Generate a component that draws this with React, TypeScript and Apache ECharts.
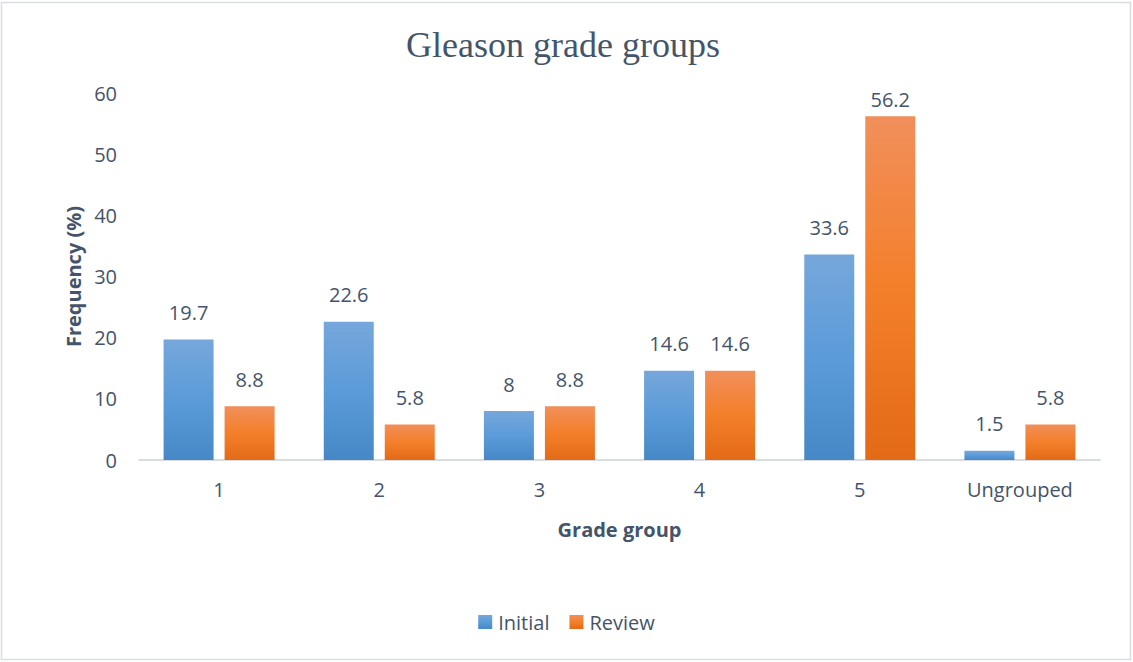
import React, { useEffect, useRef } from "react";
import * as echarts from "echarts";

const categories = ["1", "2", "3", "4", "5", "Ungrouped"];
const initialValues = [19.7, 22.6, 8, 14.6, 33.6, 1.5];
const reviewValues = [8.8, 5.8, 8.8, 14.6, 56.2, 5.8];
const seriesNames = ["Initial", "Review"];

const TEXT = "#44546A";
const FONT = "'Open Sans', 'Noto Sans', sans-serif";

const blueGrad = () =>
  new echarts.graphic.LinearGradient(0, 0, 0, 1, [
    { offset: 0, color: "#76A7DB" },
    { offset: 0.5, color: "#5B9BD9" },
    { offset: 1, color: "#4688C6" },
  ]);
const orangeGrad = () =>
  new echarts.graphic.LinearGradient(0, 0, 0, 1, [
    { offset: 0, color: "#F18F5B" },
    { offset: 0.5, color: "#F47F2A" },
    { offset: 1, color: "#E36A17" },
  ]);

export default function App() {
  const ref = useRef<HTMLDivElement>(null);
  useEffect(() => {
    if (!ref.current) return;
    const chart = echarts.init(ref.current, undefined, { renderer: "svg" });
    const label = {
      show: true,
      position: "top",
      distance: 17,
      color: TEXT,
      fontFamily: FONT,
      fontSize: 20,
    };
    // keep the tallest bar's label inside the plot's top edge, as in the reference
    const maxVal = Math.max(...reviewValues);
    const reviewData = reviewValues.map((v) =>
      v === maxVal ? { value: v, label: { distance: 7 } } : v
    );
    chart.setOption({
      animation: false,
      backgroundColor: "#ffffff",
      graphic: [
        {
          type: "rect",
          shape: { x: 1.5, y: 2.5, width: 1129, height: 657 },
          style: { fill: "none", stroke: "#D9DDE3", lineWidth: 1.5 },
          silent: true,
        },
        {
          type: "text",
          x: 563,
          y: 45,
          style: {
            text: "Gleason grade groups",
            fill: TEXT,
            font: "36px 'Liberation Serif', 'Times New Roman', serif",
            textAlign: "center",
            textVerticalAlign: "middle",
          },
        },
      ],
      legend: {
        data: seriesNames,
        bottom: 25,
        left: "center",
        icon: "rect",
        itemWidth: 14,
        itemHeight: 14,
        itemGap: 20,
        textStyle: { color: TEXT, fontFamily: FONT, fontSize: 20, padding: [0, 0, 0, 1] },
      },
      grid: { left: 139, right: 33, top: 93, bottom: 202, containLabel: false },
      xAxis: {
        type: "category",
        data: categories,
        name: "Grade group",
        nameLocation: "middle",
        nameGap: 59,
        nameTextStyle: { color: TEXT, fontFamily: FONT, fontSize: 20, fontWeight: "bold" },
        axisLine: { show: true, lineStyle: { color: "#D9DDE3", width: 2 } },
        axisTick: { show: false },
        axisLabel: { color: TEXT, fontFamily: FONT, fontSize: 20, margin: 19 },
      },
      yAxis: {
        type: "value",
        min: 0,
        max: 60,
        interval: 10,
        name: "Frequency (%)",
        nameLocation: "middle",
        nameGap: 55,
        nameTextStyle: { color: TEXT, fontFamily: FONT, fontSize: 20, fontWeight: "bold" },
        axisLine: { show: false },
        axisTick: { show: false },
        splitLine: { show: false },
        axisLabel: { color: TEXT, fontFamily: FONT, fontSize: 20, margin: 22 },
      },
      series: [
        {
          name: seriesNames[0],
          type: "bar",
          data: initialValues,
          barWidth: 50,
          barGap: "22%",
          itemStyle: { color: blueGrad() },
          label,
        },
        {
          name: seriesNames[1],
          type: "bar",
          data: reviewData,
          barWidth: 50,
          barGap: "22%",
          itemStyle: { color: orangeGrad() },
          label,
        },
      ],
    });
    return () => chart.dispose();
  }, []);
  return (
    <div
      ref={ref}
      style={{ position: "fixed", left: 0, top: 0, width: 1133, height: 662, background: "#fff" }}
    />
  );
}
